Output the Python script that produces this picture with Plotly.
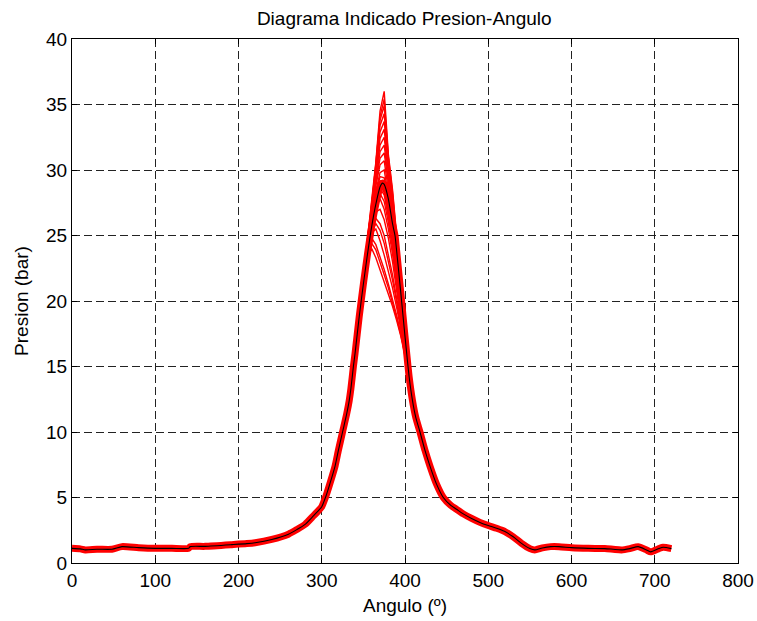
import plotly.graph_objects as go

# Mean (black) curve
mean_angle = [0, 10, 16, 30, 48, 60, 80, 100, 120, 140, 142, 160, 192, 210, 220, 240, 260, 270, 280, 290,
              296, 300, 305, 310, 316, 320, 325, 330, 333, 335, 338, 340, 345, 350, 355, 360, 365, 370, 373, 375, 380,
              385, 388, 390, 395, 400, 405, 409, 413, 418, 424, 430, 438, 446, 455, 462, 470, 480, 490, 500, 510,
              520, 530, 540, 550, 556, 565, 575, 585, 600, 620, 640, 650, 660, 670, 680, 690, 695, 705, 710, 720]
mean_pres = [1.12, 1.08, 1.0, 1.05, 1.05, 1.25, 1.17, 1.12, 1.12, 1.12, 1.25, 1.27, 1.4, 1.48, 1.55, 1.8, 2.2, 2.55, 2.95, 3.6,
             4.0, 4.3, 5.1, 6.1, 7.4, 8.6, 10.0, 11.4, 12.4, 13.3, 15.0, 16.0, 18.8, 21.3, 23.6, 25.7, 27.4, 28.7, 29.0, 28.9, 27.8,
             25.9, 25.0, 23.8, 20.6, 17.3, 14.2, 12.4, 11.1, 10.0, 8.6, 7.4, 6.0, 5.0, 4.4, 4.1, 3.75, 3.4, 3.1, 2.86, 2.65,
             2.4, 2.0, 1.5, 1.1, 1.0, 1.15, 1.25, 1.25, 1.17, 1.12, 1.1, 1.05, 1.0, 1.1, 1.25, 1.0, 0.85, 1.1, 1.2, 1.1]

# Individual cycles (red) around the combustion peak
peak_angle = [340, 345, 350, 355, 360, 365, 370, 375, 380, 385, 390, 395, 400, 405]
cycles = [
    [16.2, 19.0, 21.5, 23.3, 24.0, 23.3, 22.4, 21.5, 20.6, 19.6, 18.5, 17.3, 15.8, 14.3],
    [16.1, 18.9, 21.4, 23.4, 24.4, 23.9, 23.0, 22.0, 21.0, 19.9, 18.7, 17.4, 15.8, 14.4],
    [16.0, 18.9, 21.4, 23.5, 24.8, 24.3, 23.4, 22.4, 21.3, 20.2, 18.9, 17.5, 15.9, 14.4],
    [16.1, 18.8, 21.3, 23.6, 25.2, 25.5, 24.6, 23.5, 22.3, 21.0, 19.5, 17.8, 16.0, 14.5],
    [16.0, 18.8, 21.3, 23.5, 25.3, 25.9, 25.4, 24.4, 23.1, 21.6, 19.9, 17.9, 16.1, 14.5],
    [15.9, 18.7, 21.2, 23.6, 25.5, 26.3, 25.9, 25.0, 23.6, 22.0, 20.2, 18.0, 16.2, 14.5],
    [16.0, 18.8, 21.4, 23.8, 25.8, 26.8, 27.0, 26.2, 24.8, 23.0, 20.8, 18.3, 16.3, 14.6],
    [16.1, 18.9, 21.5, 23.9, 26.0, 27.3, 27.8, 27.0, 25.5, 23.6, 21.2, 18.6, 16.4, 14.6],
    [16.0, 18.8, 21.4, 23.8, 25.9, 27.5, 28.2, 27.6, 26.0, 24.0, 21.5, 18.8, 16.5, 14.7],
    [16.0, 18.8, 21.3, 23.7, 25.9, 27.6, 28.6, 28.1, 26.4, 24.3, 21.7, 18.9, 16.6, 14.7],
    [15.9, 18.7, 21.4, 23.9, 26.2, 28.0, 29.2, 28.8, 27.1, 24.9, 22.0, 19.1, 16.7, 14.7],
    [16.1, 18.9, 21.5, 24.0, 26.3, 28.2, 29.5, 29.4, 27.6, 25.2, 22.3, 19.2, 16.8, 14.8],
    [16.0, 18.9, 21.5, 24.0, 26.4, 28.4, 29.8, 30.0, 28.0, 25.5, 22.5, 19.3, 16.8, 14.8],
    [16.1, 18.9, 21.6, 24.2, 26.6, 28.8, 30.4, 30.7, 28.5, 25.9, 22.9, 19.6, 17.0, 14.8],
    [16.0, 18.8, 21.5, 24.1, 26.6, 29.0, 30.9, 31.3, 29.0, 26.3, 23.2, 19.8, 17.1, 14.9],
    [16.2, 19.0, 21.7, 24.3, 26.8, 29.3, 31.4, 31.9, 29.4, 26.7, 23.5, 20.0, 17.2, 14.9],
    [16.1, 18.9, 21.6, 24.3, 26.8, 29.5, 31.9, 32.5, 29.8, 27.0, 23.8, 20.2, 17.3, 15.0],
    [16.0, 18.9, 21.7, 24.4, 26.9, 29.7, 32.4, 33.1, 30.1, 27.3, 24.0, 20.3, 17.4, 15.0],
    [16.2, 19.0, 21.7, 24.5, 27.0, 29.9, 32.9, 33.7, 30.4, 27.6, 24.2, 20.5, 17.4, 15.0],
    [16.1, 18.9, 21.8, 24.6, 27.1, 30.1, 33.4, 34.3, 30.7, 27.9, 24.4, 20.6, 17.5, 15.1],
    [16.0, 19.0, 21.8, 24.7, 27.2, 30.3, 33.8, 34.9, 30.9, 28.1, 24.6, 20.8, 17.6, 15.1],
    [16.1, 19.0, 21.8, 24.8, 27.2, 30.4, 34.1, 35.4, 31.0, 28.3, 24.8, 20.9, 17.7, 15.2],
    [16.1, 19.0, 21.9, 24.9, 27.3, 30.6, 34.5, 36.0, 31.2, 28.5, 25.0, 21.1, 17.8, 15.2],
]

x_ticks = [0, 100, 200, 300, 400, 500, 600, 700, 800]
y_ticks = [0, 5, 10, 15, 20, 25, 30, 35, 40]

fig = go.Figure()
# red envelope of all cycles
fig.add_trace(go.Scatter(x=mean_angle, y=mean_pres, mode="lines", line_shape="spline",
                         line=dict(color="#ff0000", width=7, smoothing=0.6), showlegend=False, hoverinfo="skip"))
for c in cycles:
    fig.add_trace(go.Scatter(x=peak_angle, y=c, mode="lines",
                             line=dict(color="#ff0000", width=1.4), showlegend=False))
fig.add_trace(go.Scatter(x=mean_angle, y=mean_pres, mode="lines", line_shape="spline",
                         line=dict(color="black", width=1.1, smoothing=0.6), showlegend=False))

font_family = "Liberation Sans, Arial, sans-serif"
fsize = 19
axis_common = dict(showline=True, linecolor="black", linewidth=1, mirror="ticks",
                   ticks="inside", ticklen=5, tickcolor="black", automargin=False,
                   showgrid=True, gridcolor="#222222", griddash="8px,4px", gridwidth=1,
                   zeroline=False, tickfont=dict(size=fsize, color="black", family=font_family))

fig.update_layout(
    width=757, height=621,
    margin=dict(l=72, r=19, t=39, b=58),
    paper_bgcolor="white", plot_bgcolor="white",
    title=dict(text="Diagrama Indicado Presion-Angulo", x=0.534, xanchor="center", y=0.971, yanchor="middle",
               font=dict(size=fsize, color="black", family=font_family)),
    xaxis=dict(range=[0, 800], tickvals=x_ticks, ticktext=[str(v) for v in x_ticks],
               title=dict(text="Angulo (º)", font=dict(size=fsize, color="black", family=font_family), standoff=8),
               **axis_common),
    yaxis=dict(range=[0, 40], tickvals=y_ticks, ticktext=[str(v) for v in y_ticks],
               title=dict(text="Presion (bar)", font=dict(size=fsize, color="black", family=font_family), standoff=12),
               **axis_common),
)

# remove the default page margin so the 757x621 figure fills the window exactly
fig.write_html("out.html", config={"displayModeBar": False},
               post_script="document.body.style.margin='0';document.body.style.overflow='hidden';")
